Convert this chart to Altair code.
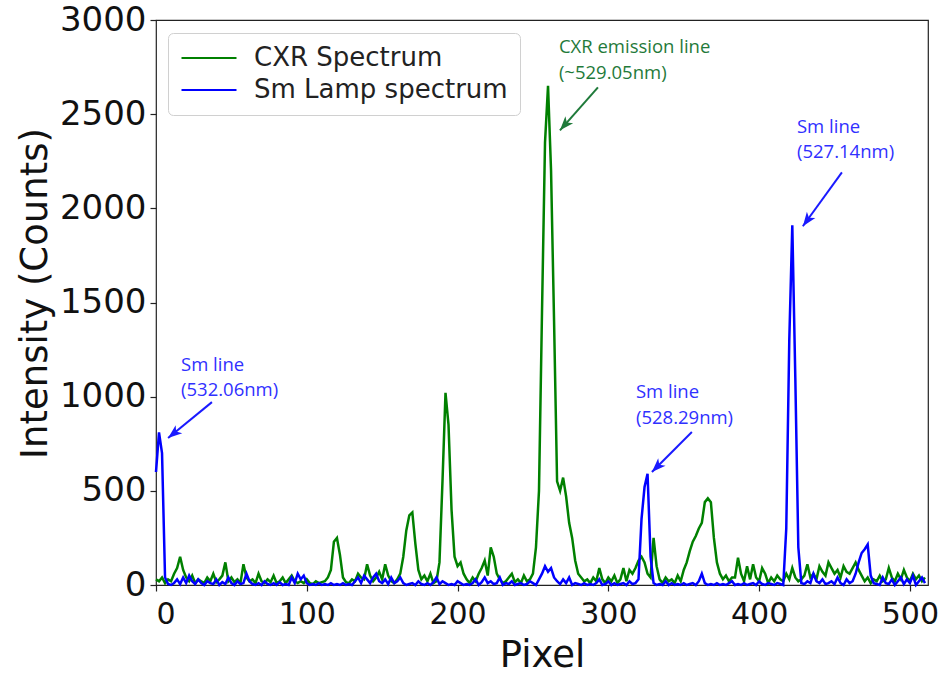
import math
import altair as alt
import pandas as pd

# Detector pixel index (every second pixel of the 512-pixel strip)
PIXELS = list(range(0, 512, 2))

# CXR spectrum intensity (counts)
CXR = [
    30, 20, 40, 10, 30, 20, 60, 90, 150, 80, 40, 20, 50, 10, 30, 20,
    10, 40, 20, 60, 15, 30, 50, 120, 20, 40, 15, 30, 10, 110, 40, 20,
    30, 10, 60, 20, 10, 30, 15, 50, 10, 20, 40, 10, 30, 50, 20, 10,
    20, 10, 30, 10, 5, 20, 10, 15, 20, 40, 80, 230, 250, 160, 40, 15,
    10, 30, 20, 60, 40, 30, 110, 50, 20, 40, 70, 30, 110, 50, 20, 10,
    30, 60, 150, 290, 370, 385, 220, 80, 30, 50, 20, 60, 10, 20, 120, 550,
    1020, 850, 400, 150, 100, 120, 60, 30, 10, 40, 20, 60, 90, 130, 50, 200,
    150, 60, 30, 10, 20, 40, 60, 15, 30, 10, 50, 20, 30, 60, 200, 500,
    1450, 2350, 2650, 2200, 1400, 550, 500, 570, 470, 330, 250, 130, 60, 40, 20, 30,
    10, 40, 20, 90, 30, 10, 40, 20, 50, 10, 30, 90, 20, 80, 60, 90,
    130, 150, 120, 60, 40, 250, 100, 30, 10, 40, 20, 30, 10, 50, 20, 80,
    120, 180, 230, 260, 300, 330, 440, 460, 440, 250, 120, 60, 30, 50, 20, 40,
    40, 145, 60, 20, 100, 30, 110, 40, 20, 90, 60, 10, 40, 20, 50, 30,
    20, 60, 30, 90, 40, 20, 30, 50, 110, 40, 60, 30, 100, 70, 50, 120,
    90, 60, 80, 40, 100, 70, 60, 90, 120, 80, 50, 20, 40, 10, 30, 20,
    50, 20, 30, 90, 40, 20, 60, 30, 80, 40, 20, 60, 30, 50, 20, 40,
]

# Sm lamp spectrum intensity (counts)
SM = [
    600, 810, 700, 40, 5, 0, 10, 30, 5, 40, 10, 50, 20, 5, 30, 10,
    0, 20, 10, 5, 30, 0, 15, 5, 40, 10, 0, 20, 5, 10, 60, 20,
    5, 0, 10, 0, 20, 5, 0, 10, 0, 15, 0, 5, 0, 40, 10, 60,
    30, 50, 10, 0, 5, 0, 10, 0, 5, 0, 10, 0, 5, 0, 10, 0,
    5, 0, 20, 40, 10, 50, 30, 10, 40, 60, 20, 10, 30, 5, 40, 10,
    20, 40, 10, 0, 5, 10, 0, 20, 5, 0, 10, 0, 15, 40, 5, 20,
    10, 0, 5, 0, 20, 10, 0, 5, 0, 10, 30, 0, 15, 40, 10, 20,
    5, 10, 40, 0, 10, 5, 20, 0, 5, 10, 0, 5, 20, 10, 0, 30,
    60, 100, 70, 90, 40, 20, 5, 30, 10, 40, 0, 10, 5, 0, 10, 0,
    5, 0, 10, 30, 0, 5, 20, 0, 10, 0, 5, 10, 0, 20, 5, 10,
    30, 350, 520, 590, 150, 10, 0, 5, 0, 20, 0, 10, 0, 5, 0, 10,
    0, 5, 10, 0, 20, 60, 10, 0, 5, 0, 10, 0, 5, 0, 10, 20,
    0, 5, 0, 10, 0, 5, 10, 0, 20, 5, 0, 10, 5, 0, 10, 5,
    0, 300, 1300, 1910, 1100, 200, 10, 5, 20, 10, 60, 20, 10, 30, 5, 10,
    20, 5, 40, 10, 0, 30, 10, 20, 60, 120, 170, 190, 215, 50, 10, 5,
    0, 40, 10, 5, 30, 0, 20, 40, 5, 30, 10, 50, 0, 20, 40, 10,
]

SERIES = ["CXR Spectrum", "Sm Lamp spectrum"]
LINE_COLORS = ["#008000", "#0000ff"]

# Annotation labels: (pixel, counts, text, colour)
LABELS = [
    (267.2, 2854, "CXR emission line", "#1f7a3a"),
    (267.2, 2716, "(~529.05nm)", "#1f7a3a"),
    (425.1, 2430, "Sm line", "#3030ff"),
    (425.1, 2297, "(527.14nm)", "#3030ff"),
    (318.3, 1024, "Sm line", "#3030ff"),
    (318.3, 886, "(528.29nm)", "#3030ff"),
    (16.6, 1167, "Sm line", "#3030ff"),
    (16.6, 1034, "(532.06nm)", "#3030ff"),
]

# Arrows: tail (pixel, counts) -> head (pixel, counts)
ARROWS = [
    (293.1, 2642, 267.9, 2414, "#1f7a3a"),
    (454.9, 2191, 429.0, 1905, "#1a1aff"),
    (355.4, 812, 328.9, 600, "#1a1aff"),
    (37.1, 971, 8.0, 780, "#1a1aff"),
]

W, H = 772, 565
X_MAX, Y_MAX = 512, 3000

lines_df = pd.DataFrame({
    "pixel": PIXELS * 2,
    "counts": CXR + SM,
    "series": [SERIES[0]] * len(PIXELS) + [SERIES[1]] * len(PIXELS),
})

labels_df = pd.DataFrame(LABELS, columns=["pixel", "counts", "text", "color"])

arrow_rows = []
for x0, y0, x1, y1, c in ARROWS:
    dx = (x1 - x0) * W / X_MAX
    dy = -(y1 - y0) * H / Y_MAX
    ang = math.degrees(math.atan2(dx, -dy)) % 360
    arrow_rows.append({"pixel": x0, "counts": y0, "pixel2": x1, "counts2": y1,
                       "color": c, "angle": ang})
arrows_df = pd.DataFrame(arrow_rows)

x_scale = alt.Scale(domain=[0, X_MAX], nice=False, zero=False)
y_scale = alt.Scale(domain=[0, Y_MAX], nice=False)

x_axis = alt.Axis(
    title="Pixel", values=[0, 100, 200, 300, 400, 500], format="d",
    labelFontSize=30, labelPadding=8,
    titleX=386, titleY=70, titleBaseline="middle", titleAlign="center",
)
y_axis = alt.Axis(
    title="Intensity (Counts)", values=[0, 500, 1000, 1500, 2000, 2500, 3000], format="d",
    labelFontSize=34, labelPadding=4,
    titleX=-121, titleY=273, titleAngle=-90, titleBaseline="middle", titleAlign="center",
)

# Long horizontal stroke used as the legend swatch
SWATCH = "M-2.5,0L2.5,0"

lines = alt.Chart(lines_df).mark_line(strokeWidth=2.5, interpolate="linear").encode(
    x=alt.X("pixel:Q", scale=x_scale, axis=x_axis),
    y=alt.Y("counts:Q", scale=y_scale, axis=y_axis),
    color=alt.Color(
        "series:N",
        scale=alt.Scale(domain=SERIES, range=LINE_COLORS),
        legend=alt.Legend(
            title=None, orient="none", legendX=12, legendY=13,
            symbolType=SWATCH, symbolSize=484, symbolStrokeWidth=2.2,
            symbolOffset=16,
            labelFont="DejaVu Sans", labelFontSize=26, labelColor="#222222",
            labelOffset=32, labelLimit=400, padding=12, rowPadding=6,
            strokeColor="#d0d0d0", fillColor="#ffffff", cornerRadius=5,
        ),
    ),
)

texts = alt.Chart(labels_df).mark_text(
    align="left", baseline="middle", font="Open Sans", fontSize=18.5,
).encode(
    x="pixel:Q", y="counts:Q", text="text:N",
    color=alt.Color("color:N", scale=None),
)

shafts = alt.Chart(arrows_df).mark_rule(strokeWidth=2).encode(
    x="pixel:Q", y="counts:Q", x2="pixel2:Q", y2="counts2:Q",
    color=alt.Color("color:N", scale=None),
)

heads = alt.Chart(arrows_df).mark_point(
    shape="M0,0 L0.85,2.3 L0,1.7 L-0.85,2.3 Z", filled=True, size=150, opacity=1,
).encode(
    x="pixel2:Q", y="counts2:Q",
    angle=alt.Angle("angle:Q", scale=None),
    color=alt.Color("color:N", scale=None),
)

chart = alt.layer(lines, shafts, heads, texts).properties(
    width=W, height=H,
    autosize=alt.AutoSizeParams(type="none"),
    padding={"left": 156, "top": 20, "right": 21, "bottom": 89},
).configure_view(
    stroke="#222222", strokeWidth=1.2,
).configure_axis(
    grid=False, domain=False,
    labelFont="DejaVu Sans", labelColor="#111111",
    titleFont="DejaVu Sans", titleFontSize=37, titleFontWeight="normal", titleColor="#111111",
    tickColor="#222222", tickSize=6, tickWidth=1.2,
)

chart.save("out.html", embed_options={"renderer": "svg", "actions": False})
